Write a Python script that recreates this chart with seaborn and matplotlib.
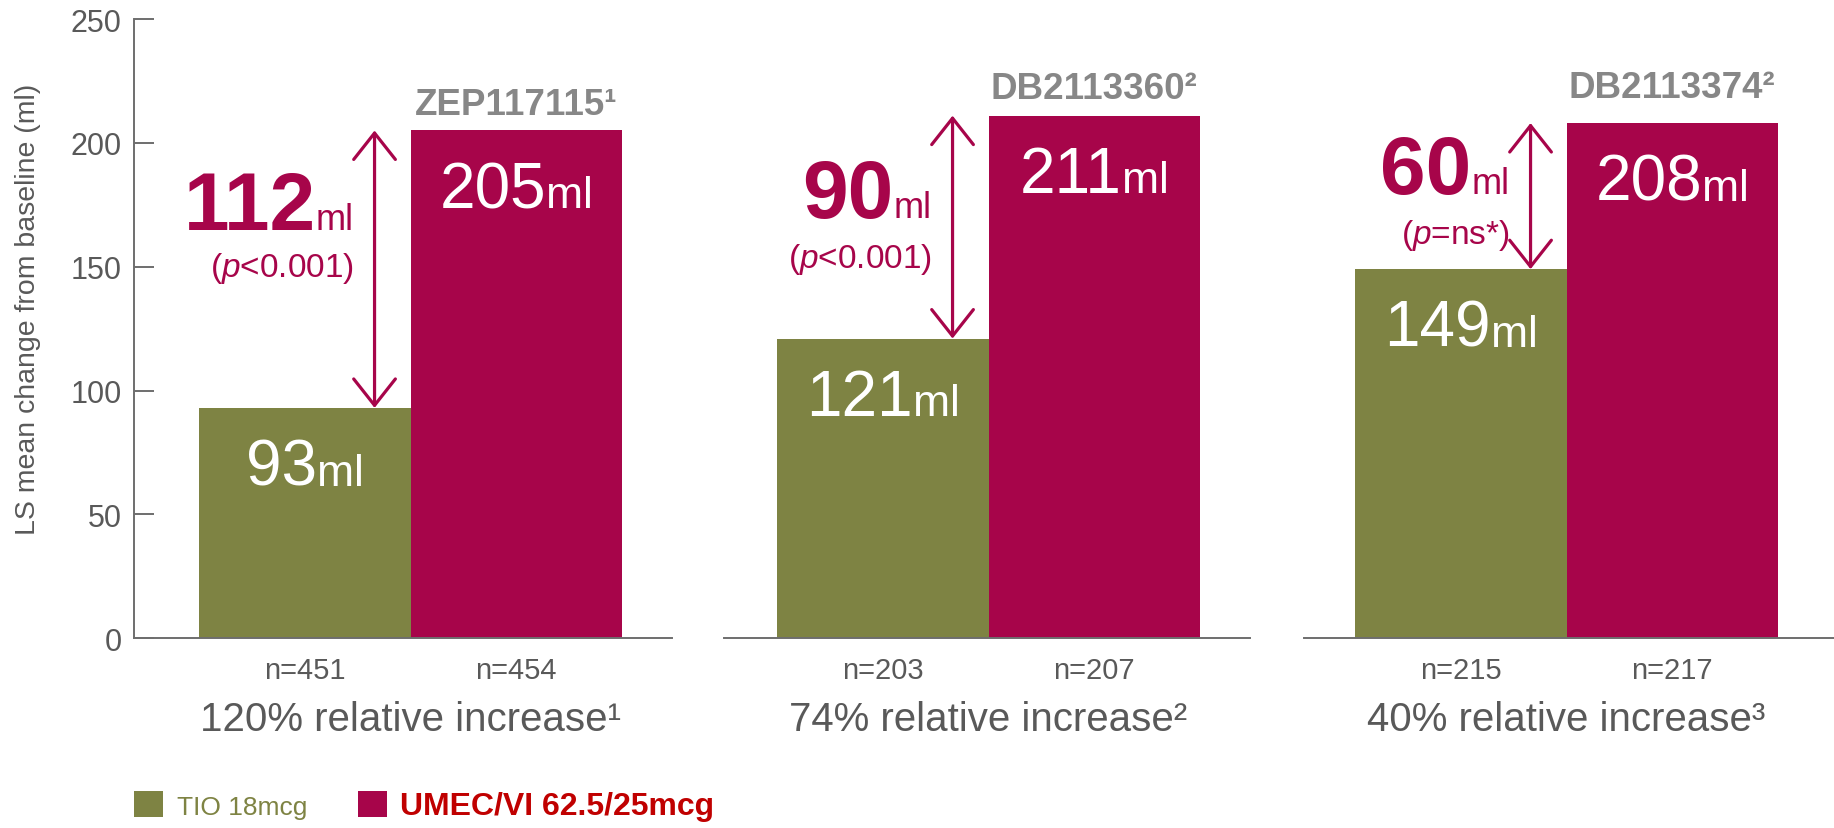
import matplotlib
matplotlib.use("Agg")
import numpy as np
import pandas as pd
import seaborn as sns
import matplotlib.pyplot as plt
import matplotlib.transforms as mtransforms
from matplotlib.patches import Patch

# ---------------- data ----------------
studies = ["ZEP117115\u00b9", "DB2113360\u00b2", "DB2113374\u00b2"]
treatments = ["TIO 18mcg", "UMEC/VI 62.5/25mcg"]
tio_values = [93, 121, 149]
umec_values = [205, 211, 208]
tio_n = ["n=451", "n=203", "n=215"]
umec_n = ["n=454", "n=207", "n=217"]
differences = [112, 90, 60]
p_values = ["<0.001", "<0.001", "=ns*"]
relative_labels = ["120% relative increase\u00b9",
                   "74% relative increase\u00b2",
                   "40% relative increase\u00b3"]
y_ticks = [0, 50, 100, 150, 200, 250]
y_label = "LS mean change from baseline (ml)"

# ---------------- style / layout ----------------
GREEN = "#7E8343"
RED = "#A7054A"
LEG_RED = "#C00000"
GRAY = "#595959"
AXIS_GRAY = "#6E6E6E"
TITLE_GRAY = "#878787"

W, H = 1834, 829
panel_px = [(134, 672), (724, 1250), (1304, 1834)]
bar_start_px = [199, 777, 1355]
bar_px = 211.5
y0_px, ytop_px = 639.3, 20.0
title_y = [211.7, 218.0, 218.7]
diff_y = [165.3, 170.2, 179.6]
p_y = [146.3, 150.0, 159.5]
arrow_x = 0.33
text_right_x = 0.231
inbar_offset = 31

sns.set_style("white")
plt.rcParams["font.family"] = ["Liberation Sans", "DejaVu Sans"]
plt.rcParams["mathtext.fontset"] = "custom"
plt.rcParams["mathtext.rm"] = "Liberation Sans"
plt.rcParams["mathtext.it"] = "Liberation Sans:italic"

fig = plt.figure(figsize=(W / 100, H / 100), dpi=100)
renderer = fig.canvas.get_renderer()


def draw_runs(ax, x, y, runs, align):
    texts, widths = [], []
    for s, kw in runs:
        t = ax.text(x, y, s, ha="left", va="baseline", **kw)
        widths.append(t.get_window_extent(renderer).width)
        texts.append(t)
    total = sum(widths)
    off = -total if align == "right" else -total / 2
    for t, w in zip(texts, widths):
        t.set_transform(mtransforms.offset_copy(ax.transData, fig=fig,
                                                x=off, y=0, units="dots"))
        off += w


for i in range(3):
    a0, a1 = panel_px[i]
    ax = fig.add_axes([a0 / W, 1 - y0_px / H, (a1 - a0) / W,
                       (y0_px - ytop_px) / H])
    df = pd.DataFrame({"n": [tio_n[i], umec_n[i]],
                       "value": [tio_values[i], umec_values[i]],
                       "treatment": treatments})
    sns.barplot(data=df, x="n", y="value", hue="treatment",
                palette=[GREEN, RED], dodge=False, width=1.0,
                saturation=1, linewidth=0, errorbar=None, legend=False,
                ax=ax)
    bs = bar_start_px[i]
    ax.set_xlim(-0.5 - (bs - a0) / bar_px, -0.5 + (a1 - bs) / bar_px)
    ax.set_ylim(0, 250)
    ax.set_ylabel("")
    for side in ["top", "right"]:
        ax.spines[side].set_visible(False)
    ax.spines["bottom"].set_color(AXIS_GRAY)
    ax.spines["bottom"].set_linewidth(1.4)
    ax.tick_params(axis="x", length=0, pad=12.5, labelsize=21,
                   labelcolor=GRAY)
    if i == 0:
        ax.spines["left"].set_color(AXIS_GRAY)
        ax.spines["left"].set_linewidth(1.4)
        ax.set_yticks(y_ticks)
        ax.tick_params(axis="y", direction="in", length=14.4, width=1.4,
                       color=AXIS_GRAY, pad=9, labelsize=22,
                       labelcolor=GRAY, left=True)
        ax.set_ylabel(y_label, fontsize=20.5, color=GRAY)
        ax.yaxis.set_label_coords(-0.172, 0.532)
    else:
        ax.spines["left"].set_visible(False)
        ax.set_yticks([])

    ax.set_xlabel(relative_labels[i], fontsize=29, color=GRAY)
    ax.xaxis.set_label_coords(
        0.5, -0.1004,
        transform=mtransforms.blended_transform_factory(ax.transData,
                                                        ax.transAxes))

    # study title
    ax.text(1, title_y[i], studies[i], ha="center", va="baseline",
            fontsize=26.5, fontweight="bold", color=TITLE_GRAY)

    # in-bar values
    for xpos, v in [(0, tio_values[i]), (1, umec_values[i])]:
        draw_runs(ax, xpos, v - inbar_offset,
                  [(str(v), dict(fontsize=46, color="white")),
                   ("ml", dict(fontsize=32, color="white"))], "center")

    # difference arrow
    ax.annotate("", xy=(arrow_x, umec_values[i]),
                xytext=(arrow_x, tio_values[i]),
                arrowprops=dict(arrowstyle="<->,head_length=19,head_width=15",
                                color=RED, lw=2.3, shrinkA=0, shrinkB=0,
                                mutation_scale=1))
    draw_runs(ax, text_right_x, diff_y[i],
              [(str(differences[i]), dict(fontsize=59, fontweight="bold",
                                          color=RED)),
               ("ml", dict(fontsize=26, color=RED))], "right")
    ax.text(text_right_x, p_y[i], "($\\mathit{p}$" + p_values[i] + ")",
            ha="right", va="baseline", fontsize=24, color=RED)

handles = [Patch(facecolor=GREEN, edgecolor="none", label=treatments[0]),
           Patch(facecolor=RED, edgecolor="none", label=treatments[1])]
leg = fig.legend(handles=handles, loc="center left",
                 bbox_to_anchor=(134 / W, 1 - 807 / H), ncol=2,
                 frameon=False, fontsize=22, handlelength=0.95,
                 handleheight=0.95, handletextpad=0.45, columnspacing=1.65,
                 borderpad=0, borderaxespad=0)
t0, t1 = leg.get_texts()
t0.set_color(GREEN)
t0.set_fontsize(19)
t1.set_color(LEG_RED)
t1.set_fontweight("bold")
t1.set_fontsize(23)

fig.savefig("out.png", dpi=100)
